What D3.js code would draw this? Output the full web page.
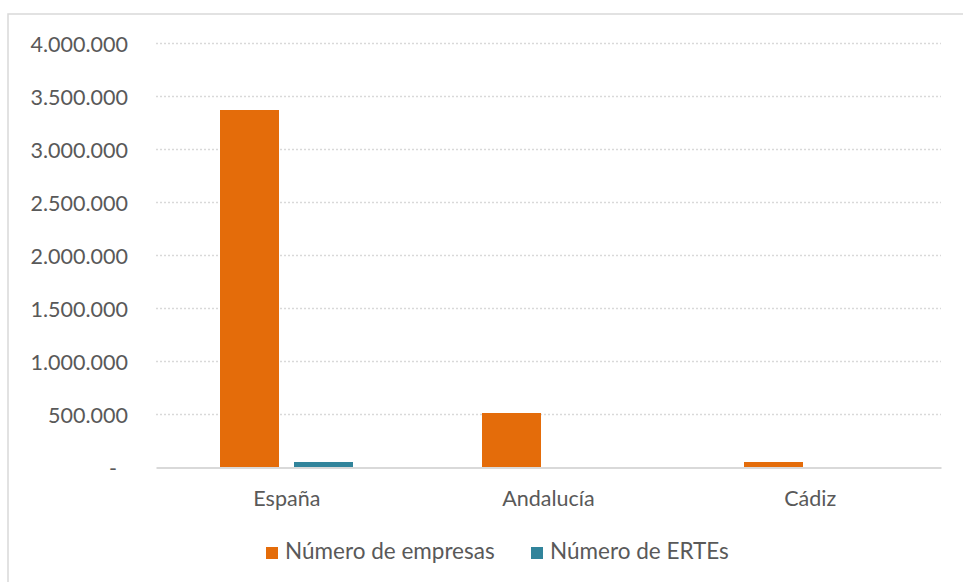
<!DOCTYPE html>
<html><head><meta charset="utf-8">
<script src="https://cdn.jsdelivr.net/npm/d3@7"></script>
<style>
html,body{margin:0;padding:0;background:#fff;}
svg{display:block;font-family:Lato,"Noto Sans",sans-serif;}
</style></head>
<body>
<svg id="c" width="963" height="582"></svg>
<script>
const categories = ["España", "Andalucía", "Cádiz"];
const seriesNames = ["Número de empresas", "Número de ERTEs"];
const empresas = [3370000, 511000, 52000];
const ertes = [52000, 2500, 400];
const yTickValues = [0, 500000, 1000000, 1500000, 2000000, 2500000, 3000000, 3500000, 4000000];
const colors = ["#E46C0A", "#31849B"];

const svg = d3.select("#c");
const plot = {left: 156, right: 941, top: 43.5, bottom: 467.5};
const textColor = "#595959";

// frame
svg.append("rect").attr("x", 8).attr("y", 14).attr("width", 970).attr("height", 590)
  .attr("fill", "#fff").attr("stroke", "#d9d9d9").attr("stroke-width", 1.5);

const y = d3.scaleLinear().domain([0, 4000000]).range([plot.bottom, plot.top]);
const x0 = d3.scaleBand().domain(categories).range([plot.left, plot.right])
  .paddingInner(0.492).paddingOuter(0.246);
const x1 = d3.scaleBand().domain(seriesNames).range([0, x0.bandwidth()])
  .paddingInner(0.2027).paddingOuter(0);

const loc = d3.formatLocale({decimal: ",", thousands: ".", grouping: [3], currency: ["", "€"]});
const fmt = v => v === 0 ? "-" : loc.format(",")(v);

// gridlines
svg.append("g").selectAll("line").data(yTickValues.filter(v => v > 0)).join("line")
  .attr("x1", plot.left).attr("x2", plot.right)
  .attr("y1", d => y(d)).attr("y2", d => y(d))
  .attr("stroke", "#d9d9d9").attr("stroke-width", 1.5).attr("stroke-dasharray", "2,2");

// y axis labels
const yAxis = d3.axisLeft(y).tickValues(yTickValues).tickFormat(fmt).tickSize(0).tickPadding(0);
const ga = svg.append("g").attr("transform", `translate(128,0)`).call(yAxis);
ga.select(".domain").remove();
ga.selectAll("text").attr("font-size", 21.5).attr("fill", textColor)
  .attr("font-family", "Lato, 'Noto Sans', sans-serif").attr("dy", "0.35em")
  .attr("dx", d => d === 0 ? -11 : 0);

// bars
const rows = categories.map((c, i) => ({cat: c, vals: [empresas[i], ertes[i]]}));
const g = svg.append("g");
g.selectAll("g").data(rows).join("g")
  .attr("transform", d => `translate(${x0(d.cat)},0)`)
  .selectAll("rect").data(d => d.vals.map((v, j) => ({name: seriesNames[j], v, j}))).join("rect")
  .attr("x", d => x1(d.name)).attr("width", x1.bandwidth())
  .attr("y", d => y(d.v)).attr("height", d => plot.bottom - y(d.v))
  .attr("fill", d => colors[d.j]).attr("shape-rendering", "crispEdges");

// x axis line and labels
const xAxis = d3.axisBottom(x0).tickSize(0).tickPadding(0);
const gx = svg.append("g").attr("transform", `translate(0,${plot.bottom})`).call(xAxis);
gx.select(".domain").attr("stroke", "#d9d9d9").attr("stroke-width", 2);
gx.selectAll("text").attr("font-size", 21.5).attr("fill", textColor)
  .attr("font-family", "Lato, 'Noto Sans', sans-serif").attr("dy", 0).attr("y", 38.5);

// legend
const legendX = [266, 531];
const lg = svg.append("g").selectAll("g").data(seriesNames).join("g")
  .attr("transform", (d, i) => `translate(${legendX[i]},547)`);
lg.append("rect").attr("width", 12).attr("height", 12).attr("fill", (d, i) => colors[i]);
lg.append("text").attr("x", 19).attr("y", 11.5).text(d => d)
  .attr("font-size", 22.5).attr("fill", textColor);
</script>
</body></html>
